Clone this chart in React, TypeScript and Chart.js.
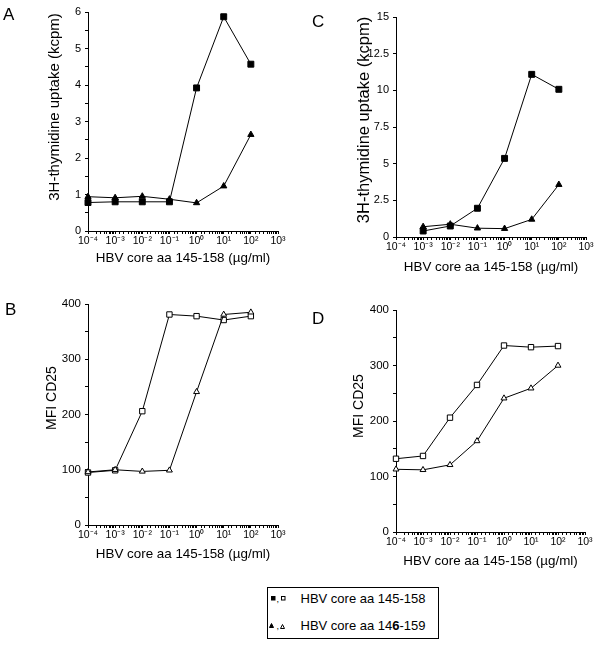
import React, { useEffect, useRef } from 'react';
import { Chart, registerables } from 'chart.js';

Chart.register(...registerables);

// ---------- data ----------
const concentrations = [1e-4, 1e-3, 1e-2, 1e-1, 1, 10, 100];
const concentrationsC = [1e-3, 1e-2, 1e-1, 1, 10, 100];

const aCore145 = [0.78, 0.8, 0.8, 0.8, 3.92, 5.87, 4.57];
const aCore146 = [0.94, 0.91, 0.95, 0.87, 0.77, 1.23, 2.64];

const cCore145 = [0.41, 0.75, 1.96, 5.36, 11.09, 10.07];
const cCore146 = [0.7, 0.87, 0.6, 0.57, 1.2, 3.57];

const bCore145 = [95, 99, 206, 381, 378, 371, 378];
const bCore146 = [96, 100, 97, 99, 241, 381, 385];

const dCore145 = [132, 137, 206, 265, 336, 333, 335];
const dCore146 = [113, 112, 121, 164, 241, 259, 300];

const xTitle = 'HBV core aa 145-158 (\u00b5g/ml)';
const thymidineTitle = '3H-thymidine uptake (kcpm)';
const mfiTitle = 'MFI CD25';
const legendLabel1 = 'HBV core aa 145-158';
const legendLabel2a = 'HBV core aa 14';
const legendLabel2b = '6';
const legendLabel2c = '-159';

const FONT = '"Liberation Sans", Arial, Helvetica, sans-serif';

const SUP: Record<string, string> = {
  '-': '\u207b', '0': '\u2070', '1': '\u00b9', '2': '\u00b2', '3': '\u00b3',
  '4': '\u2074', '5': '\u2075', '6': '\u2076', '7': '\u2077', '8': '\u2078', '9': '\u2079',
};

function powLabel(v: number): string {
  const l = Math.log10(v);
  const r = Math.round(l);
  if (Math.abs(l - r) > 1e-6) return '';
  return '10' + String(r).split('').map((c) => SUP[c]).join('');
}

type Series = { values: number[]; style: string; filled: boolean; radius: number };

type PanelCfg = {
  left: number; top: number; width: number; height: number;
  padding: { top: number; right: number; bottom: number; left: number };
  yAxisWidth: number; xAxisHeight: number;
  xs: number[];
  series: Series[];
  yMin: number; yMax: number; yStep: number;
  yLabel: (v: number) => string;
  yFontSize: number;
};

function Panel({ cfg }: { cfg: PanelCfg }) {
  const ref = useRef<HTMLCanvasElement>(null);
  useEffect(() => {
    const chart = new Chart(ref.current as HTMLCanvasElement, {
      type: 'line',
      data: {
        datasets: cfg.series.map((s) => ({
          data: cfg.xs.map((x, i) => ({ x, y: s.values[i] })),
          borderColor: '#000',
          borderWidth: 1,
          pointStyle: s.style as any,
          pointRadius: s.radius,
          pointBackgroundColor: s.filled ? '#000' : '#fff',
          pointBorderColor: '#000',
          pointBorderWidth: 1,
          tension: 0,
          fill: false,
          clip: false as any,
        })),
      },
      options: {
        responsive: false,
        maintainAspectRatio: false,
        animation: false,
        layout: { padding: cfg.padding },
        plugins: { legend: { display: false }, tooltip: { enabled: false } },
        scales: {
          x: {
            type: 'logarithmic',
            position: 'bottom',
            min: 1e-4,
            max: 1e3,
            afterFit: (s: any) => { s.height = cfg.xAxisHeight; },
            grid: { drawOnChartArea: false, drawTicks: true, tickLength: 3, tickColor: '#000', color: '#000' },
            border: { display: true, color: '#000', width: 1 },
            ticks: {
              autoSkip: false, maxRotation: 0, minRotation: 0, padding: 1, color: '#000',
              font: { family: FONT, size: 10.5 },
              callback: (v: any) => powLabel(Number(v)),
            },
            title: { display: true, text: xTitle, color: '#000', font: { family: FONT, size: 13.4 }, padding: 0 },
          },
          y: {
            type: 'linear',
            min: cfg.yMin,
            max: cfg.yMax,
            afterFit: (s: any) => { s.width = cfg.yAxisWidth; },
            grid: { drawOnChartArea: false, drawTicks: true, tickLength: 3, tickColor: '#000', color: '#000' },
            border: { display: true, color: '#000', width: 1 },
            ticks: {
              stepSize: cfg.yStep, autoSkip: false, padding: 4, color: '#000',
              font: { family: FONT, size: cfg.yFontSize },
              callback: (v: any) => cfg.yLabel(Number(v)),
            },
          },
        },
      } as any,
    });
    return () => chart.destroy();
  }, []);
  return (
    <canvas
      ref={ref}
      width={cfg.width}
      height={cfg.height}
      style={{ position: 'absolute', left: cfg.left, top: cfg.top, width: cfg.width, height: cfg.height }}
    />
  );
}

const intLabel = (v: number) => (Math.abs(v - Math.round(v)) < 1e-9 ? String(Math.round(v)) : '');
const plainLabel = (v: number) => String(Math.round(v * 100) / 100);
const hundredLabel = (v: number) => (Math.round(v) % 100 === 0 ? String(Math.round(v)) : '');

const filledSq = (values: number[]): Series => ({ values, style: 'rect', filled: true, radius: 4.2 });
const filledTri = (values: number[]): Series => ({ values, style: 'triangle', filled: true, radius: 3.6 });
const openSq = (values: number[]): Series => ({ values, style: 'rect', filled: false, radius: 3.8 });
const openTri = (values: number[]): Series => ({ values, style: 'triangle', filled: false, radius: 3.4 });

const panelA: PanelCfg = {
  left: 0, top: 0, width: 300, height: 280,
  padding: { top: 12, right: 22, bottom: 14, left: 0 },
  yAxisWidth: 88, xAxisHeight: 35,
  xs: concentrations,
  series: [filledTri(aCore146), filledSq(aCore145)],
  yMin: 0, yMax: 6, yStep: 0.5, yLabel: intLabel, yFontSize: 11,
};

const panelC: PanelCfg = {
  left: 300, top: 0, width: 300, height: 280,
  padding: { top: 17, right: 14, bottom: 5, left: 0 },
  yAxisWidth: 96, xAxisHeight: 38,
  xs: concentrationsC,
  series: [filledTri(cCore146), filledSq(cCore145)],
  yMin: 0, yMax: 15, yStep: 2.5, yLabel: plainLabel, yFontSize: 11,
};

const panelB: PanelCfg = {
  left: 0, top: 280, width: 300, height: 300,
  padding: { top: 24, right: 22, bottom: 18, left: 0 },
  yAxisWidth: 88, xAxisHeight: 37,
  xs: concentrations,
  series: [openTri(bCore146), openSq(bCore145)],
  yMin: 0, yMax: 400, yStep: 50, yLabel: hundredLabel, yFontSize: 11.5,
};

const panelD: PanelCfg = {
  left: 300, top: 280, width: 300, height: 300,
  padding: { top: 30, right: 15, bottom: 11, left: 0 },
  yAxisWidth: 96, xAxisHeight: 37,
  xs: concentrations,
  series: [openTri(dCore146), openSq(dCore145)],
  yMin: 0, yMax: 400, yStep: 50, yLabel: hundredLabel, yFontSize: 11.5,
};

function YTitle({ text, cx, cy, size }: { text: string; cx: number; cy: number; size: number }) {
  return (
    <div
      style={{
        position: 'absolute', left: cx, top: cy, fontFamily: FONT, fontSize: size, lineHeight: 1,
        whiteSpace: 'nowrap', color: '#000', transform: 'translate(-50%, -50%) rotate(-90deg)',
      }}
    >
      {text}
    </div>
  );
}

function Letter({ text, left, top }: { text: string; left: number; top: number }) {
  return (
    <div style={{ position: 'absolute', left, top, fontFamily: FONT, fontSize: 17, lineHeight: 1, color: '#000' }}>
      {text}
    </div>
  );
}

function Marker({ kind, filled, x, y, size }: { kind: 'sq' | 'tri'; filled: boolean; x: number; y: number; size: number }) {
  return (
    <svg
      width={size + 2}
      height={size + 2}
      style={{ position: 'absolute', left: x - 1, top: y - 1, overflow: 'visible' }}
    >
      {kind === 'sq' ? (
        <rect x={1.5} y={1.5} width={size - 1} height={size - 1} fill={filled ? '#000' : '#fff'} stroke="#000" strokeWidth={1} />
      ) : (
        <polygon
          points={`${1 + size / 2},1.5 ${size + 0.5},${size + 0.5} 1.5,${size + 0.5}`}
          fill={filled ? '#000' : '#fff'}
          stroke="#000"
          strokeWidth={1}
        />
      )}
    </svg>
  );
}

function Legend() {
  const textStyle: React.CSSProperties = {
    position: 'absolute', fontFamily: FONT, fontSize: 13, lineHeight: 1, whiteSpace: 'nowrap', color: '#000',
  };
  const commaStyle: React.CSSProperties = {
    position: 'absolute', fontFamily: FONT, fontSize: 9, lineHeight: 1, color: '#000',
  };
  return (
    <>
      <div
        style={{
          position: 'absolute', left: 267, top: 587, width: 170, height: 50,
          border: '1px solid #000', boxSizing: 'content-box',
        }}
      />
      <Marker kind="sq" filled={true} x={270.5} y={596} size={4.5} />
      <div style={{ ...commaStyle, left: 276.5, top: 595 }}>,</div>
      <Marker kind="sq" filled={false} x={280.5} y={596} size={4.5} />
      <div style={{ ...textStyle, left: 300.5, top: 592.3 }}>{legendLabel1}</div>

      <Marker kind="tri" filled={true} x={268.5} y={623} size={5} />
      <div style={{ ...commaStyle, left: 276.5, top: 621.5 }}>,</div>
      <Marker kind="tri" filled={false} x={279.5} y={623.5} size={5} />
      <div style={{ ...textStyle, left: 300.5, top: 619 }}>
        {legendLabel2a}
        <b>{legendLabel2b}</b>
        {legendLabel2c}
      </div>
    </>
  );
}

export default function App() {
  return (
    <div style={{ position: 'absolute', left: 0, top: 0, width: 600, height: 646, background: '#fff', overflow: 'hidden' }}>
      <Panel cfg={panelA} />
      <Panel cfg={panelC} />
      <Panel cfg={panelB} />
      <Panel cfg={panelD} />
      <YTitle text={thymidineTitle} cx={53} cy={107} size={15} />
      <YTitle text={thymidineTitle} cx={362.5} cy={120} size={16.5} />
      <YTitle text={mfiTitle} cx={51} cy={398} size={14} />
      <YTitle text={mfiTitle} cx={357.5} cy={406} size={14} />
      <Letter text="A" left={3} top={5.8} />
      <Letter text="C" left={312} top={12.8} />
      <Letter text="B" left={5} top={301} />
      <Letter text="D" left={312} top={309.8} />
      <Legend />
    </div>
  );
}
